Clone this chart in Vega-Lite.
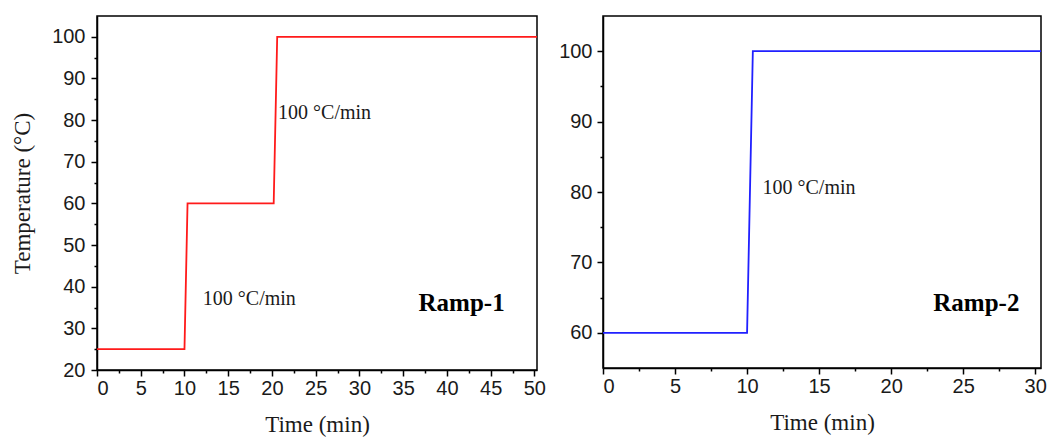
{
  "$schema": "https://vega.github.io/schema/vega-lite/v6.json",
  "background": "white",
  "padding": {"left": 10, "top": 15, "right": 0, "bottom": 0},
  "spacing": 10,
  "datasets": {
    "ramp1": [
      {"t": 0, "T": 25}, {"t": 10, "T": 25}, {"t": 10.35, "T": 60},
      {"t": 20.2, "T": 60}, {"t": 20.6, "T": 100}, {"t": 50.3, "T": 100}
    ],
    "ramp2": [
      {"t": 0, "T": 60}, {"t": 10, "T": 60}, {"t": 10.4, "T": 100}, {"t": 30.4, "T": 100}
    ],
    "ann1": [
      {"t": 12.1, "T": 37.1, "label": "100 °C/min"},
      {"t": 20.7, "T": 81.8, "label": "100 °C/min"}
    ],
    "name1": [{"t": 46.6, "T": 36.1, "label": "Ramp-1"}],
    "ann2": [{"t": 11.07, "T": 80.5, "label": "100 °C/min"}],
    "name2": [{"t": 28.9, "T": 64.3, "label": "Ramp-2"}]
  },
  "config": {
    "view": {"stroke": "black", "strokeWidth": 1.5},
    "axis": {
      "grid": false,
      "labelFont": "Liberation Sans",
      "labelFontSize": 20,
      "labelColor": "#1a1a1a",
      "labelPadding": 2,
      "titleFont": "Liberation Serif",
      "titleFontSize": 23,
      "titleFontWeight": "normal",
      "titleColor": "#1a1a1a",
      "domainColor": "black",
      "domainWidth": 1.5,
      "tickColor": "black",
      "tickWidth": 1.5,
      "tickSize": 6
    }
  },
  "hconcat": [
    {
      "width": 440,
      "height": 354,
      "layer": [
        {
          "data": {"name": "ramp1"},
          "mark": {"type": "line", "color": "#ff1a1a", "strokeWidth": 1.8},
          "encoding": {
            "x": {"field": "t", "type": "quantitative", "scale": {"domain": [0, 50.3], "nice": false, "zero": false},
                  "axis": {"orient": "bottom", "title": "Time (min)", "values": [0,5,10,15,20,25,30,35,40,45,50], "titlePadding": 15}},
            "y": {"field": "T", "type": "quantitative", "scale": {"domain": [20, 105], "nice": false, "zero": false},
                  "axis": {"orient": "left", "title": "Temperature (°C)", "values": [20,30,40,50,60,70,80,90,100], "labelPadding": 6, "titlePadding": 17}}
          }
        },
        {
          "data": {"name": "ann1"},
          "mark": {"type": "text", "font": "Liberation Serif", "fontSize": 20, "align": "left", "baseline": "middle", "color": "#1a1a1a"},
          "encoding": {
            "x": {"field": "t", "type": "quantitative",
                  "axis": {"orient": "bottom", "values": [2.5,7.5,12.5,17.5,22.5,27.5,32.5,37.5,42.5,47.5], "labels": false, "domain": false, "title": null, "tickSize": 3}},
            "y": {"field": "T", "type": "quantitative",
                  "axis": {"orient": "left", "values": [25,35,45,55,65,75,85,95], "labels": false, "domain": false, "title": null, "tickSize": 3}},
            "text": {"field": "label"}
          }
        },
        {
          "data": {"name": "name1"},
          "mark": {"type": "text", "font": "Liberation Serif", "fontSize": 25, "fontWeight": "bold", "align": "right", "baseline": "middle", "color": "black"},
          "encoding": {
            "x": {"field": "t", "type": "quantitative", "axis": null},
            "y": {"field": "T", "type": "quantitative", "axis": null},
            "text": {"field": "label"}
          }
        }
      ],
      "resolve": {"axis": {"x": "independent", "y": "independent"}}
    },
    {
      "width": 438,
      "height": 352,
      "layer": [
        {
          "data": {"name": "ramp2"},
          "mark": {"type": "line", "color": "#2020ff", "strokeWidth": 1.8},
          "encoding": {
            "x": {"field": "t", "type": "quantitative", "scale": {"domain": [0, 30.4], "nice": false, "zero": false},
                  "axis": {"orient": "bottom", "title": "Time (min)", "values": [0,5,10,15,20,25,30], "titlePadding": 15}},
            "y": {"field": "T", "type": "quantitative", "scale": {"domain": [55, 105], "nice": false, "zero": false},
                  "axis": {"orient": "left", "title": null, "values": [60,70,80,90,100], "labelPadding": 5}}
          }
        },
        {
          "data": {"name": "ann2"},
          "mark": {"type": "text", "font": "Liberation Serif", "fontSize": 20, "align": "left", "baseline": "middle", "color": "#1a1a1a"},
          "encoding": {
            "x": {"field": "t", "type": "quantitative",
                  "axis": {"orient": "bottom", "values": [2.5,7.5,12.5,17.5,22.5,27.5], "labels": false, "domain": false, "title": null, "tickSize": 3}},
            "y": {"field": "T", "type": "quantitative",
                  "axis": {"orient": "left", "values": [65,75,85,95], "labels": false, "domain": false, "title": null, "tickSize": 3}},
            "text": {"field": "label"}
          }
        },
        {
          "data": {"name": "name2"},
          "mark": {"type": "text", "font": "Liberation Serif", "fontSize": 25, "fontWeight": "bold", "align": "right", "baseline": "middle", "color": "black"},
          "encoding": {
            "x": {"field": "t", "type": "quantitative", "axis": null},
            "y": {"field": "T", "type": "quantitative", "axis": null},
            "text": {"field": "label"}
          }
        }
      ],
      "resolve": {"axis": {"x": "independent", "y": "independent"}}
    }
  ]
}
